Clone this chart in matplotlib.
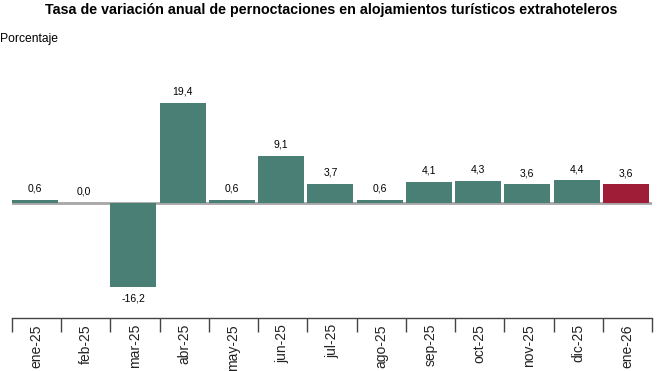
import matplotlib
matplotlib.use("Agg")
import matplotlib.pyplot as plt
import matplotlib.transforms as mtransforms
import numpy as np

plt.rcParams['font.family'] = ['Liberation Sans', 'DejaVu Sans']

title = "Tasa de variación anual de pernoctaciones en alojamientos turísticos extrahoteleros"
ylabel = "Porcentaje"
categories = ["ene-25", "feb-25", "mar-25", "abr-25", "may-25", "jun-25", "jul-25",
              "ago-25", "sep-25", "oct-25", "nov-25", "dic-25", "ene-26"]
values = [0.6, 0.0, -16.2, 19.4, 0.6, 9.1, 3.7, 0.6, 4.1, 4.3, 3.6, 4.4, 3.6]
labels = ["0,6", "0,0", "-16,2", "19,4", "0,6", "9,1", "3,7", "0,6", "4,1", "4,3", "3,6", "4,4", "3,6"]

teal = "#4a7f75"
red = "#a01d38"
colors = [teal] * (len(values) - 1) + [red]

W, H = 662, 371
fig = plt.figure(figsize=(W / 100, H / 100), dpi=100)

def fx(px):
    return px / W

def fy(px):
    return 1 - px / H

# main axes
left_px, right_px = 12, 652
top_px, bot_px = 90, 300
ax = fig.add_axes([fx(left_px), fy(bot_px), fx(right_px - left_px), (bot_px - top_px) / H])
n = len(values)
x = np.arange(n)
ax.set_xlim(-0.5, n - 0.5)
zero_px = 203
scale = 100 / 19.4
ax.set_ylim(-(bot_px - zero_px) / scale, (zero_px - top_px) / scale)
ax.axhline(0, color="#a6a6a6", lw=2, zorder=1)
bw = 0.935
ax.bar(x - 0.5, values, width=bw, align='edge', color=colors, zorder=2)
for xi, v, lab in zip(x, values, labels):
    if v >= 0:
        ax.annotate(lab, (xi - 0.5 + bw / 2, v), xytext=(0, 4.5), textcoords='offset points',
                    ha='center', va='bottom', fontsize=7.5)
    else:
        ax.annotate(lab, (xi - 0.5 + bw / 2, v), xytext=(0, -5), textcoords='offset points',
                    ha='center', va='top', fontsize=7.5)
ax.axis('off')

# bottom category axis
line_px = 318
ax2 = fig.add_axes([fx(left_px), 0, fx(right_px - left_px), fy(line_px)])
ax2.set_xlim(-0.5, n - 0.5)
ax2.set_ylim(0, 1)
for s in ['left', 'right', 'bottom']:
    ax2.spines[s].set_visible(False)
ax2.spines['top'].set_color('#444444')
ax2.spines['top'].set_linewidth(1)
ax2.xaxis.tick_top()
ax2.set_xticks(np.arange(n + 1) - 0.5)
ax2.tick_params(axis='x', direction='in', length=10, color='#444444', width=1,
                labeltop=False, labelbottom=False)
ax2.set_yticks([])
ax2.patch.set_visible(False)
trans = mtransforms.blended_transform_factory(ax2.transData, ax2.transAxes)
label_top = 1 - 6 / (H - line_px)
for xi, c in zip(x, categories):
    ax2.text(xi, label_top, c, rotation=90, ha='center', va='top', fontsize=10,
             transform=trans, color='#222222')

fig.text(0.5, fy(10), title, ha='center', va='center', fontsize=10.3, fontweight='bold')
fig.text(fx(0), fy(39), ylabel, ha='left', va='center', fontsize=8.7)

fig.savefig("out.png", dpi=100)
